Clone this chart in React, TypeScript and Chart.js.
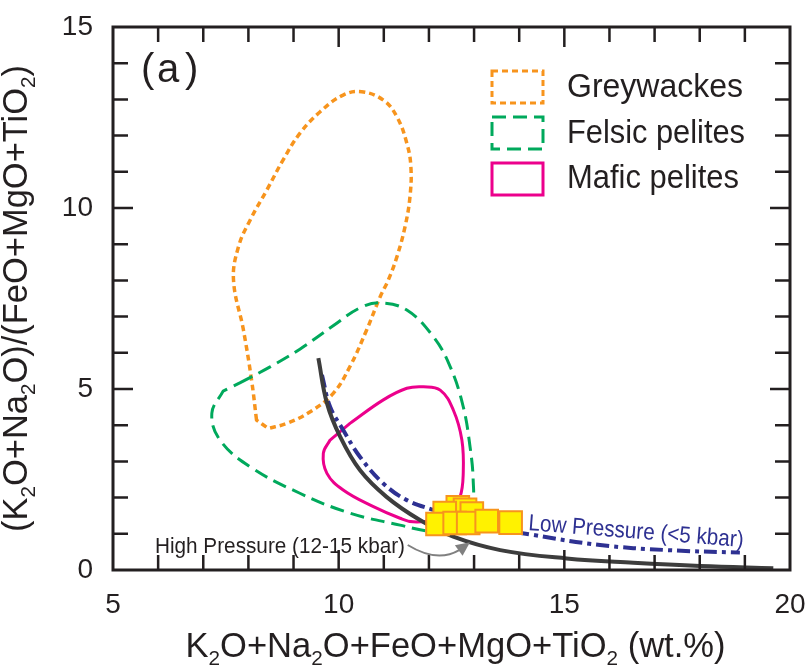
import React, { useEffect, useRef } from 'react';
import { Chart, registerables } from 'chart.js';

Chart.register(...registerables);

// ---- Data ----
// closed outlines (the last point joins back to the first)
const greywackesX = [8.18, 8.07, 7.89, 7.67, 7.78, 8.04, 8.41, 8.77, 9.14, 9.59, 10.10, 10.51, 10.99, 11.29, 11.51, 11.60, 11.58, 11.47, 11.29, 11.10, 10.92, 10.62, 10.25, 9.88, 9.37, 8.85, 8.44];
const greywackesY = [4.14, 5.25, 6.63, 8.01, 8.93, 9.67, 10.50, 11.33, 12.06, 12.66, 13.12, 13.21, 12.98, 12.52, 11.79, 11.14, 10.31, 9.48, 8.65, 8.01, 7.55, 6.63, 5.62, 4.88, 4.37, 4.05, 3.91];

const felsicX = [7.81, 8.48, 9.14, 9.87, 10.47, 10.92, 11.51, 12.10, 12.47, 12.76, 12.91, 12.98, 12.95, 12.69, 12.25, 11.95, 11.36, 10.25, 9.14, 8.04, 7.37, 7.19, 7.44];
const felsicY = [5.17, 5.61, 6.10, 6.74, 7.24, 7.38, 7.18, 6.44, 5.62, 4.51, 3.41, 2.49, 1.80, 1.33, 1.10, 1.08, 1.24, 1.57, 2.12, 2.85, 3.59, 4.33, 4.94];

const maficX = [10.25, 10.99, 11.51, 11.88, 12.25, 12.54, 12.73, 12.76, 12.69, 12.47, 12.10, 11.65, 11.36, 10.77, 10.10, 9.74, 9.66, 9.81];
const maficY = [4.05, 4.70, 5.02, 5.06, 4.97, 4.42, 3.59, 2.67, 2.02, 1.57, 1.38, 1.33, 1.43, 1.75, 2.21, 2.67, 3.22, 3.59];

const highPressureX = [9.55, 9.74, 10.03, 10.47, 11.06, 11.80, 12.54, 13.58, 15.05, 16.53, 18.01, 19.63];
const highPressureY = [5.85, 4.61, 3.69, 2.76, 2.02, 1.38, 0.92, 0.55, 0.32, 0.20, 0.11, 0.05];

const lowPressureX = [9.63, 9.81, 10.10, 10.47, 10.99, 11.51, 12.10, 13.13, 14.31, 15.79, 17.27, 18.89];
const lowPressureY = [5.39, 4.51, 3.87, 3.13, 2.39, 1.93, 1.66, 1.24, 0.97, 0.69, 0.55, 0.48];

const sampleX = [12.64, 12.80, 12.95, 12.35, 12.19, 12.57, 12.87, 13.28, 13.81];
const sampleY = [1.73, 1.66, 1.56, 1.57, 1.27, 1.30, 1.30, 1.35, 1.31];

const xRange = [5, 20];
const yRange = [0, 15];
const legendLabels = ['Greywackes', 'Felsic pelites', 'Mafic pelites'];
const xTitle = 'K_2O+Na_2O+FeO+MgO+TiO_2 (wt.%)';
const yTitle = '(K_2O+Na_2O)/(FeO+MgO+TiO_2)';
const highLabel = 'High Pressure (12-15 kbar)';
const lowLabel = 'Low Pressure (<5 kbar)';

const FONT = '"Liberation Sans", Arial, Helvetica, sans-serif';
const INK = '#231f20';
const ORANGE = '#f7941d';
const GREEN = '#00a95c';
const PINK = '#ec008c';
const NAVY = '#2e3192';
const DARK = '#3d3d3d';

const zip = (xs: number[], ys: number[]) => xs.map((x, i) => ({ x, y: ys[i] }));

type Seg = { t: string; sub: boolean };
function parseSegs(s: string): Seg[] {
  const out: Seg[] = [];
  let cur = '';
  for (let i = 0; i < s.length; i++) {
    if (s[i] === '_') {
      if (cur) out.push({ t: cur, sub: false });
      cur = '';
      out.push({ t: s[i + 1], sub: true });
      i++;
    } else cur += s[i];
  }
  if (cur) out.push({ t: cur, sub: false });
  return out;
}

function drawRich(ctx: CanvasRenderingContext2D, text: string, size: number, cx: number, baseline: number, targetW: number) {
  const segs = parseSegs(text);
  let total = 0;
  const widths: number[] = [];
  for (const s of segs) {
    ctx.font = `${s.sub ? size * 0.6 : size}px ${FONT}`;
    const w = ctx.measureText(s.t).width;
    widths.push(w);
    total += w;
  }
  const k = targetW / total;
  ctx.save();
  ctx.translate(cx - targetW / 2, baseline);
  ctx.scale(k, 1);
  ctx.textAlign = 'left';
  ctx.textBaseline = 'alphabetic';
  let x = 0;
  segs.forEach((s, i) => {
    ctx.font = `${s.sub ? size * 0.6 : size}px ${FONT}`;
    ctx.fillText(s.t, x, s.sub ? size * 0.24 : 0);
    x += widths[i];
  });
  ctx.restore();
}

function drawFit(ctx: CanvasRenderingContext2D, text: string, size: number, left: number, baseline: number, targetW: number) {
  ctx.save();
  ctx.font = `${size}px ${FONT}`;
  const w = ctx.measureText(text).width;
  ctx.translate(left, baseline);
  ctx.scale(targetW / w, 1);
  ctx.textAlign = 'left';
  ctx.textBaseline = 'alphabetic';
  ctx.fillText(text, 0, 0);
  ctx.restore();
}

// make the outline datasets smooth closed loops
const closeLoopPlugin = {
  id: 'closeLoop',
  beforeDatasetsDraw(chart: any) {
    chart.data.datasets.forEach((ds: any, i: number) => {
      if (!ds.closed) return;
      const el = chart.getDatasetMeta(i).dataset;
      if (!el) return;
      el._loop = true;
      el._fullLoop = true;
      el._pointsUpdated = false;
      delete el._segments;
      delete el._path;
    });
  },
};

const decorPlugin = {
  id: 'decor',
  afterDraw(chart: any) {
    const ctx: CanvasRenderingContext2D = chart.ctx;
    const { left, top, right, bottom } = chart.chartArea;
    const xs = chart.scales.x;
    const ys = chart.scales.y;
    const px = (v: number) => xs.getPixelForValue(v);
    const py = (v: number) => ys.getPixelForValue(v);
    ctx.save();

    // inward ticks on all four sides
    ctx.strokeStyle = INK;
    ctx.lineWidth = 2.5;
    ctx.beginPath();
    for (let v = xRange[0] + 1; v < xRange[1]; v++) {
      const len = v % 5 === 0 ? 20 : 15;
      const x = px(v);
      ctx.moveTo(x, bottom); ctx.lineTo(x, bottom - len);
      ctx.moveTo(x, top); ctx.lineTo(x, top + len);
    }
    for (let v = yRange[0] + 1; v < yRange[1]; v++) {
      const len = v % 5 === 0 ? 20 : 15;
      const y = py(v);
      ctx.moveTo(left, y); ctx.lineTo(left + len, y);
      ctx.moveTo(right, y); ctx.lineTo(right - len, y);
    }
    ctx.stroke();

    // frame
    ctx.lineWidth = 3;
    ctx.strokeRect(left, top, right - left, bottom - top);

    // panel label
    ctx.fillStyle = INK;
    ctx.font = `40px ${FONT}`;
    ctx.textBaseline = 'alphabetic';
    ctx.textAlign = 'left';
    ctx.fillText('(', left + 28, top + 55);
    ctx.fillText('a', left + 44, top + 55);
    ctx.fillText(')', left + 72, top + 55);

    // legend
    const styles = [
      { c: ORANGE, d: [6, 4] },
      { c: GREEN, d: [14, 7] },
      { c: PINK, d: [] as number[] },
    ];
    const boxTops = [71, 117, 163];
    const baselines = [97, 143, 188];
    const widths = [176, 178, 172];
    styles.forEach((s, i) => {
      ctx.strokeStyle = s.c;
      ctx.lineWidth = 3;
      ctx.setLineDash(s.d);
      ctx.strokeRect(left + 379, boxTops[i], 51, 32);
      ctx.setLineDash([]);
      ctx.fillStyle = INK;
      drawFit(ctx, legendLabels[i], 34, left + 454, baselines[i], widths[i]);
    });

    // High pressure label and arrow
    ctx.fillStyle = INK;
    drawFit(ctx, highLabel, 22, px(5.93), py(0.47), px(11.47) - px(5.93));
    const S = { x: px(11.53), y: py(0.69) };
    const C = { x: px(12.18), y: py(0.19) };
    const B = { x: px(12.67), y: py(0.55) };
    const T = { x: px(12.91), y: py(0.77) };
    ctx.strokeStyle = '#808080';
    ctx.fillStyle = '#808080';
    ctx.lineWidth = 2;
    ctx.beginPath();
    ctx.moveTo(S.x, S.y);
    ctx.quadraticCurveTo(C.x, C.y, B.x, B.y);
    ctx.stroke();
    const dx = T.x - B.x, dy = T.y - B.y;
    const L = Math.hypot(dx, dy);
    const ux = dx / L, uy = dy / L;
    const bx = T.x - ux * 14, by = T.y - uy * 14;
    ctx.beginPath();
    ctx.moveTo(T.x, T.y);
    ctx.lineTo(bx - uy * 6.5, by + ux * 6.5);
    ctx.lineTo(bx + uy * 6.5, by - ux * 6.5);
    ctx.closePath();
    ctx.fill();

    // Low pressure label (slanted)
    const a0 = { x: px(14.195), y: py(1.105) };
    const a1 = { x: px(18.96), y: py(0.635) };
    const ang = Math.atan2(a1.y - a0.y, a1.x - a0.x);
    const len = Math.hypot(a1.x - a0.x, a1.y - a0.y);
    ctx.save();
    ctx.translate(a0.x, a0.y);
    ctx.rotate(ang);
    ctx.fillStyle = NAVY;
    drawFit(ctx, lowLabel, 23, 0, 0, len);
    ctx.restore();

    // axis titles
    ctx.fillStyle = INK;
    drawRich(ctx, xTitle, 35, (left + right) / 2 + 4, 657, 540);
    ctx.save();
    ctx.translate(27, (top + bottom) / 2);
    ctx.rotate(-Math.PI / 2);
    drawRich(ctx, yTitle, 35, 0, 0, 467);
    ctx.restore();

    ctx.restore();
  },
};

export default function App() {
  const ref = useRef<HTMLCanvasElement | null>(null);
  useEffect(() => {
    document.body.style.margin = '0';
    const canvas = ref.current;
    if (!canvas) return;
    const lineBase = { showLine: true, pointRadius: 0, tension: 0.4, fill: false, borderCapStyle: 'butt' as const, borderJoinStyle: 'round' as const };
    const chart = new Chart(canvas, {
      type: 'scatter',
      data: {
        datasets: [
          {
            label: 'Samples',
            data: zip(sampleX, sampleY),
            pointStyle: 'rect',
            pointRadius: 16,
            backgroundColor: '#fff200',
            borderColor: '#f7941d',
            borderWidth: 2,
            showLine: false,
          } as any,
          { ...lineBase, label: 'High Pressure', data: zip(highPressureX, highPressureY), borderColor: DARK, borderWidth: 4 } as any,
          { ...lineBase, label: 'Low Pressure', data: zip(lowPressureX, lowPressureY), borderColor: NAVY, borderWidth: 4, borderDash: [13, 5, 4, 5] } as any,
          { ...lineBase, closed: true, label: 'Mafic pelites', data: zip(maficX, maficY), borderColor: PINK, borderWidth: 3 } as any,
          { ...lineBase, closed: true, label: 'Felsic pelites', data: zip(felsicX, felsicY), borderColor: GREEN, borderWidth: 3, borderDash: [14, 7] } as any,
          { ...lineBase, closed: true, label: 'Greywackes', data: zip(greywackesX, greywackesY), borderColor: ORANGE, borderWidth: 3.5, borderDash: [6, 4] } as any,
        ],
      },
      options: {
        responsive: false,
        animation: false,
        events: [],
        layout: { autoPadding: false, padding: { top: 27, right: 19, left: 0, bottom: 0 } },
        plugins: { legend: { display: false }, tooltip: { enabled: false } },
        scales: {
          x: {
            type: 'linear',
            min: xRange[0],
            max: xRange[1],
            ticks: { stepSize: 5, padding: 18, color: INK, font: { family: FONT, size: 28 } },
            grid: { display: false, drawTicks: false },
            border: { display: false },
            afterFit: (s: any) => { s.height = 99; s.paddingLeft = 0; s.paddingRight = 0; },
          },
          y: {
            type: 'linear',
            min: yRange[0],
            max: yRange[1],
            ticks: { stepSize: 5, padding: 20, color: INK, font: { family: FONT, size: 28 } },
            grid: { display: false, drawTicks: false },
            border: { display: false },
            afterFit: (s: any) => { s.width = 113; s.paddingTop = 0; s.paddingBottom = 0; },
          },
        },
      } as any,
      plugins: [closeLoopPlugin, decorPlugin],
    });
    return () => chart.destroy();
  }, []);
  return (
    <div style={{ width: 809, height: 669, overflow: 'hidden', background: '#fff' }}>
      <canvas ref={ref} width={809} height={669} style={{ display: 'block' }} />
    </div>
  );
}
